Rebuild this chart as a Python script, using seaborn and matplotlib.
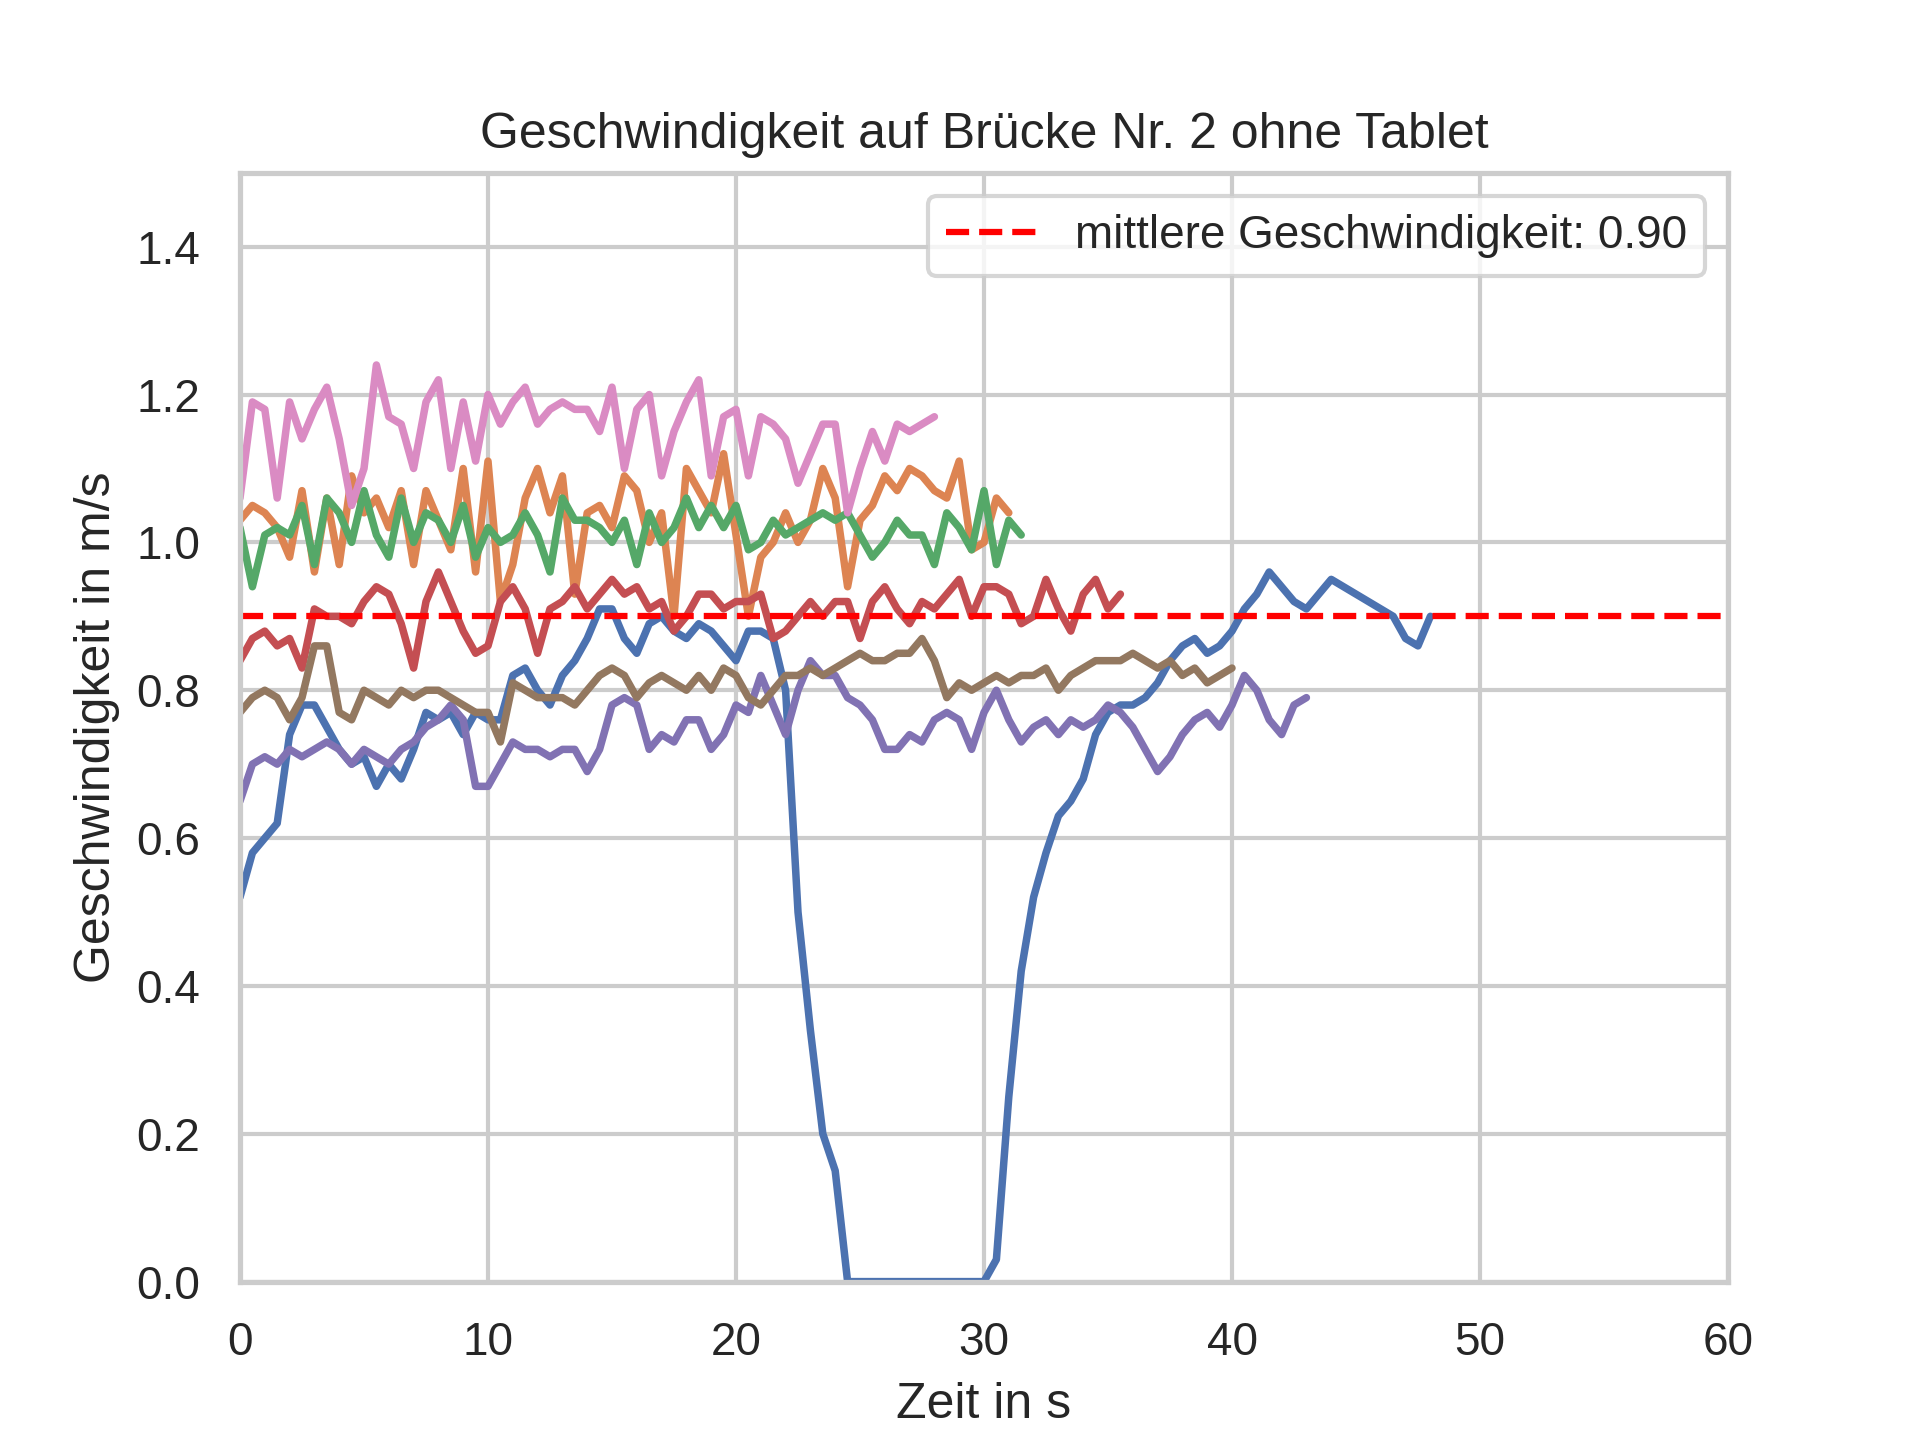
import numpy as np
import pandas as pd
import seaborn as sns
import matplotlib
matplotlib.use('Agg')
import matplotlib.pyplot as plt

# sample spacing of the speed traces in s
DT = 0.5
MEAN_SPEED = 0.90

speed_1 = [0.52, 0.58, 0.60, 0.62, 0.74, 0.78, 0.78, 0.75, 0.72, 0.70,
           0.71, 0.67, 0.70, 0.68, 0.72, 0.77, 0.76, 0.77, 0.74, 0.77,
           0.76, 0.76, 0.82, 0.83, 0.80, 0.78, 0.82, 0.84, 0.87, 0.91,
           0.91, 0.87, 0.85, 0.89, 0.90, 0.88, 0.87, 0.89, 0.88, 0.86,
           0.84, 0.88, 0.88, 0.87, 0.80, 0.50, 0.34, 0.20, 0.15, 0.0,
           0.0, 0.0, 0.0, 0.0, 0.0, 0.0, 0.0, 0.0, 0.0, 0.0,
           0.0, 0.03, 0.25, 0.42, 0.52, 0.58, 0.63, 0.65, 0.68, 0.74,
           0.77, 0.78, 0.78, 0.79, 0.81, 0.84, 0.86, 0.87, 0.85, 0.86,
           0.88, 0.91, 0.93, 0.96, 0.94, 0.92, 0.91, 0.93, 0.95, 0.94,
           0.93, 0.92, 0.91, 0.90, 0.87, 0.86, 0.90]
speed_2 = [1.03, 1.05, 1.04, 1.02, 0.98, 1.07, 0.96, 1.06, 0.97, 1.09,
           1.04, 1.06, 1.02, 1.07, 0.97, 1.07, 1.03, 0.99, 1.10, 0.96,
           1.11, 0.92, 0.97, 1.06, 1.10, 1.04, 1.09, 0.93, 1.04, 1.05,
           1.02, 1.09, 1.07, 1.00, 1.04, 0.90, 1.10, 1.07, 1.04, 1.12,
           1.01, 0.90, 0.98, 1.00, 1.04, 1.00, 1.03, 1.10, 1.06, 0.94,
           1.03, 1.05, 1.09, 1.07, 1.10, 1.09, 1.07, 1.06, 1.11, 0.99,
           1.00, 1.06, 1.04]
speed_3 = [1.02, 0.94, 1.01, 1.02, 1.01, 1.05, 0.97, 1.06, 1.04, 1.00,
           1.07, 1.01, 0.98, 1.06, 1.00, 1.04, 1.03, 1.00, 1.05, 0.98,
           1.02, 1.00, 1.01, 1.04, 1.01, 0.96, 1.06, 1.03, 1.03, 1.02,
           1.00, 1.03, 0.97, 1.04, 1.00, 1.02, 1.06, 1.02, 1.05, 1.02,
           1.05, 0.99, 1.00, 1.03, 1.01, 1.02, 1.03, 1.04, 1.03, 1.04,
           1.01, 0.98, 1.00, 1.03, 1.01, 1.01, 0.97, 1.04, 1.02, 0.99,
           1.07, 0.97, 1.03, 1.01]
speed_4 = [0.84, 0.87, 0.88, 0.86, 0.87, 0.83, 0.91, 0.90, 0.90, 0.89,
           0.92, 0.94, 0.93, 0.89, 0.83, 0.92, 0.96, 0.92, 0.88, 0.85,
           0.86, 0.92, 0.94, 0.91, 0.85, 0.91, 0.92, 0.94, 0.91, 0.93,
           0.95, 0.93, 0.94, 0.91, 0.92, 0.88, 0.90, 0.93, 0.93, 0.91,
           0.92, 0.92, 0.93, 0.87, 0.88, 0.90, 0.92, 0.90, 0.92, 0.92,
           0.87, 0.92, 0.94, 0.91, 0.89, 0.92, 0.91, 0.93, 0.95, 0.90,
           0.94, 0.94, 0.93, 0.89, 0.90, 0.95, 0.91, 0.88, 0.93, 0.95,
           0.91, 0.93]
speed_5 = [0.65, 0.70, 0.71, 0.70, 0.72, 0.71, 0.72, 0.73, 0.72, 0.70,
           0.72, 0.71, 0.70, 0.72, 0.73, 0.75, 0.76, 0.78, 0.76, 0.67,
           0.67, 0.70, 0.73, 0.72, 0.72, 0.71, 0.72, 0.72, 0.69, 0.72,
           0.78, 0.79, 0.78, 0.72, 0.74, 0.73, 0.76, 0.76, 0.72, 0.74,
           0.78, 0.77, 0.82, 0.78, 0.74, 0.80, 0.84, 0.82, 0.82, 0.79,
           0.78, 0.76, 0.72, 0.72, 0.74, 0.73, 0.76, 0.77, 0.76, 0.72,
           0.77, 0.80, 0.76, 0.73, 0.75, 0.76, 0.74, 0.76, 0.75, 0.76,
           0.78, 0.77, 0.75, 0.72, 0.69, 0.71, 0.74, 0.76, 0.77, 0.75,
           0.78, 0.82, 0.80, 0.76, 0.74, 0.78, 0.79]
speed_6 = [0.77, 0.79, 0.80, 0.79, 0.76, 0.79, 0.86, 0.86, 0.77, 0.76,
           0.80, 0.79, 0.78, 0.80, 0.79, 0.80, 0.80, 0.79, 0.78, 0.77,
           0.77, 0.73, 0.81, 0.80, 0.79, 0.79, 0.79, 0.78, 0.80, 0.82,
           0.83, 0.82, 0.79, 0.81, 0.82, 0.81, 0.80, 0.82, 0.80, 0.83,
           0.82, 0.79, 0.78, 0.80, 0.82, 0.82, 0.83, 0.82, 0.83, 0.84,
           0.85, 0.84, 0.84, 0.85, 0.85, 0.87, 0.84, 0.79, 0.81, 0.80,
           0.81, 0.82, 0.81, 0.82, 0.82, 0.83, 0.80, 0.82, 0.83, 0.84,
           0.84, 0.84, 0.85, 0.84, 0.83, 0.84, 0.82, 0.83, 0.81, 0.82,
           0.83]
speed_7 = [1.06, 1.19, 1.18, 1.06, 1.19, 1.14, 1.18, 1.21, 1.14, 1.05,
           1.10, 1.24, 1.17, 1.16, 1.10, 1.19, 1.22, 1.10, 1.19, 1.11,
           1.20, 1.16, 1.19, 1.21, 1.16, 1.18, 1.19, 1.18, 1.18, 1.15,
           1.21, 1.10, 1.18, 1.20, 1.09, 1.15, 1.19, 1.22, 1.09, 1.17,
           1.18, 1.09, 1.17, 1.16, 1.14, 1.08, 1.12, 1.16, 1.16, 1.04,
           1.10, 1.15, 1.11, 1.16, 1.15, 1.16, 1.17]

runs = [speed_1, speed_2, speed_3, speed_4, speed_5, speed_6, speed_7]

sns.set_theme(style='whitegrid')
plt.rcParams['font.family'] = ['Liberation Sans', 'DejaVu Sans']

fig, ax = plt.subplots(figsize=(6.4, 4.8))
palette = sns.color_palette('deep')

for i, v in enumerate(runs):
    df = pd.DataFrame({'t': np.arange(len(v)) * DT, 'v': v})
    sns.lineplot(data=df, x='t', y='v', ax=ax, color=palette[i], linewidth=1.8)

ax.axhline(MEAN_SPEED, color='red', linestyle='--', linewidth=1.5,
           label=f'mittlere Geschwindigkeit: {MEAN_SPEED:.2f}')

ax.set_xlim(0, 60)
ax.set_ylim(0, 1.5)
ax.set_yticks(np.arange(0, 1.41, 0.2))
ax.set_title('Geschwindigkeit auf Brücke Nr. 2 ohne Tablet')
ax.set_xlabel('Zeit in s')
ax.set_ylabel('Geschwindigkeit in m/s')
ax.legend(loc='upper right')

plt.savefig('out.png', dpi=300)
